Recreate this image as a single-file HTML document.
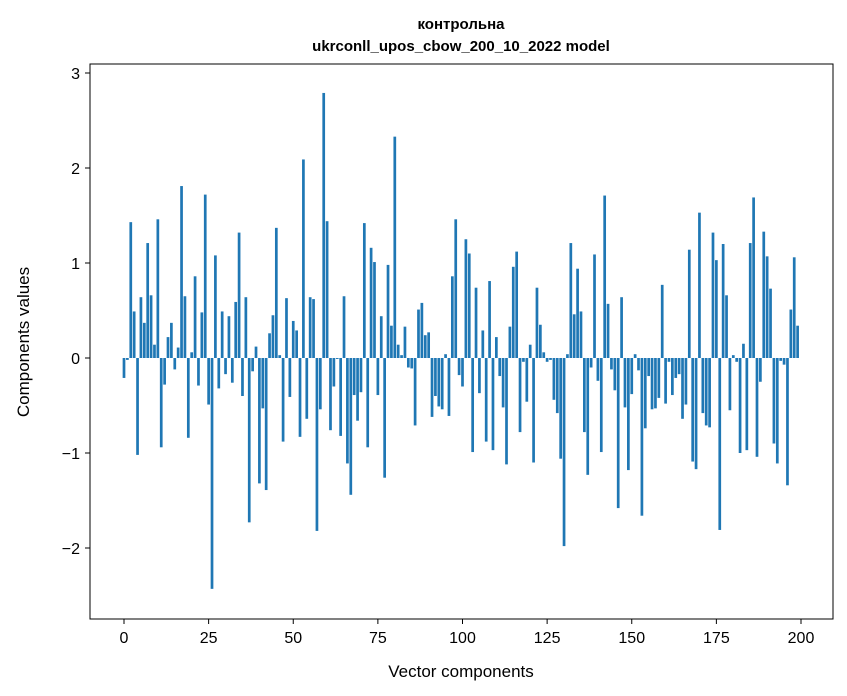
<!DOCTYPE html>
<html><head><meta charset="utf-8"><style>
body{margin:0;background:#fff}
svg{display:block;font-family:"Liberation Sans","DejaVu Sans",sans-serif}
</style></head><body>
<svg id="chart" width="847" height="696" xmlns="http://www.w3.org/2000/svg">
<rect width="847" height="696" fill="#fff"/>
<text x="461" y="29" text-anchor="middle" font-size="15" font-weight="bold">контрольна</text>
<text x="461" y="51" text-anchor="middle" font-size="15" font-weight="bold">ukrconll_upos_cbow_200_10_2022 model</text>
<g id="bars"></g>
<g id="xticks"></g>
<g id="yticks"></g>
<rect x="90" y="64" width="743" height="555" fill="none" stroke="#000" stroke-width="1"/>
<text x="461" y="677" text-anchor="middle" font-size="17">Vector components</text>
<text transform="translate(29,342) rotate(-90)" text-anchor="middle" font-size="17">Components values</text>
</svg>
<script>
const values = [-0.21,-0.02,1.43,0.49,-1.02,0.64,0.37,1.21,0.66,0.14,
1.46,-0.94,-0.28,0.22,0.37,-0.12,0.11,1.81,0.65,-0.84,
0.06,0.86,-0.29,0.48,1.72,-0.49,-2.43,1.08,-0.32,0.49,
-0.17,0.44,-0.26,0.59,1.32,-0.40,0.64,-1.73,-0.14,0.12,
-1.32,-0.53,-1.39,0.26,0.45,1.37,0.03,-0.88,0.63,-0.41,
0.39,0.29,-0.83,2.09,-0.64,0.64,0.62,-1.82,-0.54,2.79,
1.44,-0.76,-0.30,-0.01,-0.82,0.65,-1.11,-1.44,-0.39,-0.66,
-0.36,1.42,-0.94,1.16,1.01,-0.39,0.44,-1.26,0.98,0.34,
2.33,0.14,0.03,0.33,-0.10,-0.11,-0.71,0.51,0.58,0.24,
0.27,-0.62,-0.40,-0.51,-0.54,0.04,-0.61,0.86,1.46,-0.18,
-0.30,1.25,1.10,-0.99,0.74,-0.37,0.29,-0.88,0.81,-0.97,
0.22,-0.19,-0.52,-1.12,0.33,0.96,1.12,-0.78,-0.04,-0.46,
0.14,-1.10,0.74,0.35,0.06,-0.04,-0.02,-0.44,-0.58,-1.06,
-1.98,0.04,1.21,0.46,0.94,0.49,-0.78,-1.23,-0.10,1.09,
-0.24,-0.99,1.71,0.57,-0.12,-0.34,-1.58,0.64,-0.52,-1.18,
-0.38,0.04,-0.13,-1.66,-0.74,-0.19,-0.54,-0.53,-0.42,0.77,
-0.48,-0.04,-0.39,-0.21,-0.17,-0.64,-0.49,1.14,-1.09,-1.17,
1.53,-0.58,-0.71,-0.73,1.32,1.03,-1.81,1.20,0.66,-0.55,
0.03,-0.04,-1.00,0.15,-0.97,1.21,1.69,-1.04,-0.25,1.33,
1.07,0.73,-0.90,-1.11,-0.03,-0.07,-1.34,0.51,1.06,0.34];
const xTickValues = [0,25,50,75,100,125,150,175,200];
const yTickValues = [-2,-1,0,1,2,3];
const yTickLabels = ["\u22122","\u22121","0","1","2","3"];

const NS="http://www.w3.org/2000/svg";
const xScale = v => 124 + v*3.385;
const yScale = v => 358 - v*95;
const barsG=document.getElementById('bars');
values.forEach((v,i)=>{
  const r=document.createElementNS(NS,'rect');
  const w=0.8*3.385;
  r.setAttribute('x',xScale(i)-w/2);
  r.setAttribute('width',w);
  r.setAttribute('y',Math.min(yScale(v),yScale(0)));
  r.setAttribute('height',Math.abs(yScale(v)-yScale(0)));
  r.setAttribute('fill','#1f77b4');
  
  
  barsG.appendChild(r);
});
const xg=document.getElementById('xticks');
xTickValues.forEach(t=>{
  const x=xScale(t);
  const l=document.createElementNS(NS,'line');
  l.setAttribute('x1',x);l.setAttribute('x2',x);l.setAttribute('y1',619);l.setAttribute('y2',624);
  l.setAttribute('stroke','#000');
  
  
  xg.appendChild(l);
  const tx=document.createElementNS(NS,'text');
  tx.setAttribute('x',x);tx.setAttribute('y',643);tx.setAttribute('text-anchor','middle');tx.setAttribute('font-size','16');
  tx.textContent=t;
  
  
  xg.appendChild(tx);
});
const yg=document.getElementById('yticks');
yTickValues.forEach((t,i)=>{
  const y=yScale(t);
  const l=document.createElementNS(NS,'line');
  l.setAttribute('x1',85);l.setAttribute('x2',90);l.setAttribute('y1',y);l.setAttribute('y2',y);
  l.setAttribute('stroke','#000');
  
  
  yg.appendChild(l);
  const tx=document.createElementNS(NS,'text');
  tx.setAttribute('x',80);tx.setAttribute('y',y+6);tx.setAttribute('text-anchor','end');tx.setAttribute('font-size','16');
  tx.textContent=yTickLabels[i];
  
  
  yg.appendChild(tx);
});
</script>
</body></html>
